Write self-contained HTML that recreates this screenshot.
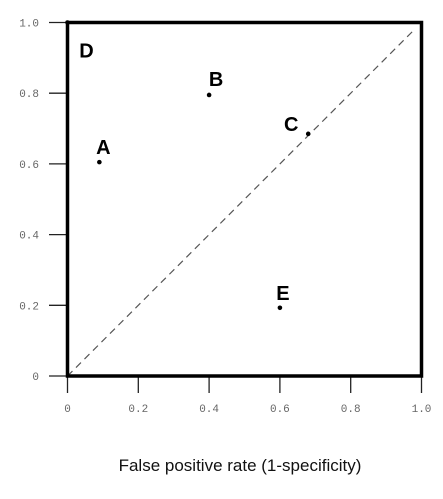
<!DOCTYPE html>
<html><head><meta charset="utf-8"><style>
html,body{margin:0;padding:0;background:#fff;width:443px;height:499px;overflow:hidden}
</style></head><body>
<svg width="443" height="499" viewBox="0 0 443 499" xmlns="http://www.w3.org/2000/svg">
<g id="axes"></g>
<g id="marks"></g>
<text x="240" y="471" text-anchor="middle" font-family="Liberation Sans, sans-serif" font-size="17" fill="#111">False positive rate (1-specificity)</text>
</svg>
<script>
const ticks=[0,0.2,0.4,0.6,0.8,1.0];
const tickLabels=["0","0.2","0.4","0.6","0.8","1.0"];
const pointNames=["A","B","C","D","E"];
const fprValues=[0.09,0.40,0.68,0.0,0.60];
const tprValues=[0.605,0.795,0.685,1.0,0.193];
const labelDx=[4,7,-17,19,3];
const labelDy=[-8,-9,-3,35,-8];
const NS="http://www.w3.org/2000/svg";
const X0=67.5,X1=421.5,Y0=376,Y1=22.5;
const sx=v=>X0+(X1-X0)*v, sy=v=>Y0-(Y0-Y1)*v;
function mk(t,a,p){const e=document.createElementNS(NS,t);for(const k in a)e.setAttribute(k,a[k]);p.appendChild(e);return e;}
const ax=document.getElementById('axes'), mg=document.getElementById('marks');
ticks.forEach((t,i)=>{
  let l=mk('line',{x1:49,x2:X0,y1:sy(t),y2:sy(t),stroke:'#222','stroke-width':1.3},ax);
  
  
  let tx=mk('text',{x:39,y:sy(t)+4,'text-anchor':'end','font-family':'Liberation Mono, monospace','font-size':11,fill:'#666'},ax);
  tx.textContent=tickLabels[i];
  
  
  let l2=mk('line',{x1:sx(t),x2:sx(t),y1:Y0,y2:393,stroke:'#222','stroke-width':1.3},ax);
  
  
  let tx2=mk('text',{x:sx(t),y:412,'text-anchor':'middle','font-family':'Liberation Mono, monospace','font-size':11,fill:'#666'},ax);
  tx2.textContent=tickLabels[i];
  
  
});
let d=mk('line',{x1:sx(0),y1:sy(0),x2:sx(0.98),y2:sy(0.98),stroke:'#555','stroke-width':1.2,'stroke-dasharray':'7,5'},ax);


let f=mk('rect',{x:X0,y:Y1,width:X1-X0,height:Y0-Y1,fill:'none',stroke:'#000','stroke-width':3.5},ax);


pointNames.forEach((n,i)=>{
  const cx=sx(fprValues[i]),cy=sy(tprValues[i]);
  let c=mk('circle',{cx:cx,cy:cy,r:2.3,fill:'#000'},mg);
  
  
  let t=mk('text',{x:cx+labelDx[i],y:cy+labelDy[i],'text-anchor':'middle','font-family':'Liberation Sans, sans-serif','font-size':20,'font-weight':'bold',fill:'#000'},mg);
  t.textContent=n;
  
  
});
</script>
</body></html>
